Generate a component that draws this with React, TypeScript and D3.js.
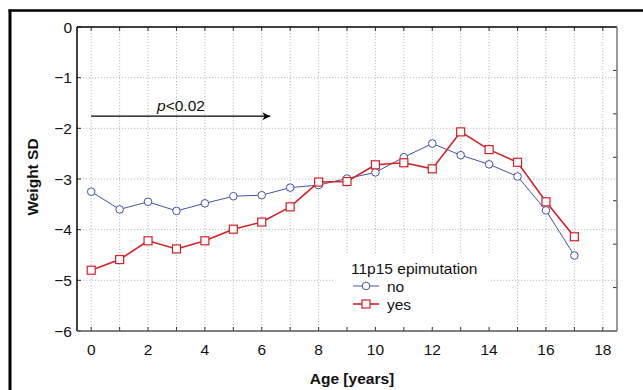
import React from "react";
import * as d3 from "d3";

const ages = [0, 1, 2, 3, 4, 5, 6, 7, 8, 9, 10, 11, 12, 13, 14, 15, 16, 17];
const noValues = [-3.25, -3.6, -3.45, -3.63, -3.48, -3.34, -3.32, -3.17, -3.12, -2.99, -2.87, -2.57, -2.3, -2.53, -2.71, -2.95, -3.62, -4.51];
const yesValues = [-4.8, -4.59, -4.22, -4.38, -4.22, -3.99, -3.85, -3.55, -3.06, -3.05, -2.72, -2.68, -2.8, -2.07, -2.42, -2.67, -3.45, -4.14];
const xTickLabels = [0, 2, 4, 6, 8, 10, 12, 14, 16, 18];
const yTickLabels = [0, -1, -2, -3, -4, -5, -6];
const legendTitle = "11p15 epimutation";
const seriesNames = ["no", "yes"];
const arrowFrom = 0;
const arrowTo = 6.3;
const arrowY = -1.76;

const W = 643;
const H = 390;
const L = 77, R = 617, T = 27, B = 331;
const FONT = "Arial, 'Liberation Sans', Helvetica, sans-serif";
const BLUE = "#4353aa";
const RED = "#d42028";
const FS = 15.5;

export default function App() {
  const x = d3.scaleLinear().domain([-0.5, 18.5]).range([L, R]);
  const y = d3.scaleLinear().domain([-6, 0]).range([B, T]);
  const intX = d3.range(0, 19);
  const intY = d3.range(-6, 1);
  const rightTicks = d3.range(1, 7).map((i) => T + ((B - T) * i) / 7);

  const line = d3
    .line<number>()
    .x((_, i) => x(ages[i]))
    .y((d) => y(d));

  const dash = "1.2,1.8";
  return (
    <div style={{ position: "absolute", left: 0, top: 0, width: W, height: H, background: "#fff" }}>
      <svg width={W} height={H} style={{ display: "block", fontFamily: FONT }}>
        <defs>
          <marker id="arr" viewBox="0 0 10 10" refX="10" refY="5" markerWidth="12" markerHeight="8" markerUnits="userSpaceOnUse" orient="auto">
            <path d="M0,0 L10,5 L0,10 L3,5 Z" fill="#000" />
          </marker>
        </defs>
        <rect x={0} y={0} width={W} height={H} fill="#fff" />
        {/* outer frame */}
        <line x1={10} x2={10} y1={9.5} y2={H} stroke="#000" strokeWidth={3} />
        <line x1={8.5} x2={W} y1={10.5} y2={10.5} stroke="#000" strokeWidth={2.5} />

        {/* grid */}
        <g stroke="#b5b5b5" strokeWidth={0.9} strokeDasharray={dash}>
          {intX.map((v) => (
            <line key={"gx" + v} x1={x(v)} x2={x(v)} y1={T} y2={B} />
          ))}
          {intY.filter((v) => v > -6 && v < 0).map((v) => (
            <line key={"gy" + v} x1={L} x2={R} y1={y(v)} y2={y(v)} />
          ))}
        </g>

        {/* legend background */}
        <rect x={334} y={255} width={156} height={B - 256} fill="#fff" />

        {/* ticks */}
        <g stroke="#333" strokeWidth={1}>
          {intX.map((v) => (
            <g key={"tx" + v}>
              <line x1={x(v)} x2={x(v)} y1={B} y2={B - 4} />
              <line x1={x(v)} x2={x(v)} y1={T} y2={T + 4} />
            </g>
          ))}
          {intY.map((v) => (
            <line key={"ty" + v} x1={L} x2={L + 4} y1={y(v)} y2={y(v)} />
          ))}
          {rightTicks.map((v, i) => (
            <line key={"tr" + i} x1={R} x2={R - 4} y1={v} y2={v} />
          ))}
        </g>

        {/* plot box */}
        <line x1={L} x2={L} y1={T} y2={B} stroke="#000" strokeWidth={1.5} />
        <line x1={L} x2={R} y1={T} y2={T} stroke="#000" strokeWidth={1.5} />
        <line x1={L} x2={R} y1={B} y2={B} stroke="#555" strokeWidth={1.5} />
        <line x1={R} x2={R} y1={T} y2={B} stroke="#777" strokeWidth={1.5} />

        {/* tick labels */}
        <g fontSize={FS} fill="#111">
          {yTickLabels.map((v) => (
            <text key={"ly" + v} x={72} y={y(v)} dy="0.36em" textAnchor="end">
              {v === 0 ? "0" : "\u2212" + Math.abs(v)}
            </text>
          ))}
          {xTickLabels.map((v) => (
            <text key={"lx" + v} x={x(v)} y={355} textAnchor="middle">
              {v}
            </text>
          ))}
        </g>

        {/* axis titles */}
        <text x={352} y={384} textAnchor="middle" fontSize={FS} fontWeight="bold" fill="#111">
          Age [years]
        </text>
        <text transform="translate(38,177) rotate(-90)" textAnchor="middle" fontSize={FS} fontWeight="bold" fill="#111">
          Weight SD
        </text>

        {/* arrow annotation */}
        <line x1={x(arrowFrom)} x2={x(arrowTo)} y1={y(arrowY)} y2={y(arrowY)} stroke="#000" strokeWidth={1.3} markerEnd="url(#arr)" />
        <text x={181} y={111} textAnchor="middle" fontSize={FS} fill="#111">
          <tspan fontStyle="italic">p</tspan>&lt;0.02
        </text>

        {/* series */}
        <path d={line(noValues) || ""} fill="none" stroke={BLUE} strokeWidth={1} />
        <path d={line(yesValues) || ""} fill="none" stroke={RED} strokeWidth={1.6} />
        {noValues.map((v, i) => (
          <circle key={"c" + i} cx={x(ages[i])} cy={y(v)} r={3.8} fill="#fff" stroke={BLUE} strokeWidth={1} />
        ))}
        {yesValues.map((v, i) => (
          <rect key={"s" + i} x={x(ages[i]) - 4} y={y(v) - 4} width={8} height={8} fill="#fff" stroke={RED} strokeWidth={1.2} />
        ))}

        {/* legend */}
        <text x={351} y={274} fontSize={FS} fill="#111">{legendTitle}</text>
        <line x1={353} x2={379} y1={286} y2={286} stroke={BLUE} strokeWidth={1} />
        <circle cx={366} cy={286} r={3.8} fill="#fff" stroke={BLUE} strokeWidth={1} />
        <text x={387} y={286} dy="0.36em" fontSize={FS} fill="#111">{seriesNames[0]}</text>
        <line x1={353} x2={379} y1={304} y2={304} stroke={RED} strokeWidth={1.6} />
        <rect x={362} y={300} width={8} height={8} fill="#fff" stroke={RED} strokeWidth={1.2} />
        <text x={387} y={304} dy="0.36em" fontSize={FS} fill="#111">{seriesNames[1]}</text>
      </svg>
    </div>
  );
}
